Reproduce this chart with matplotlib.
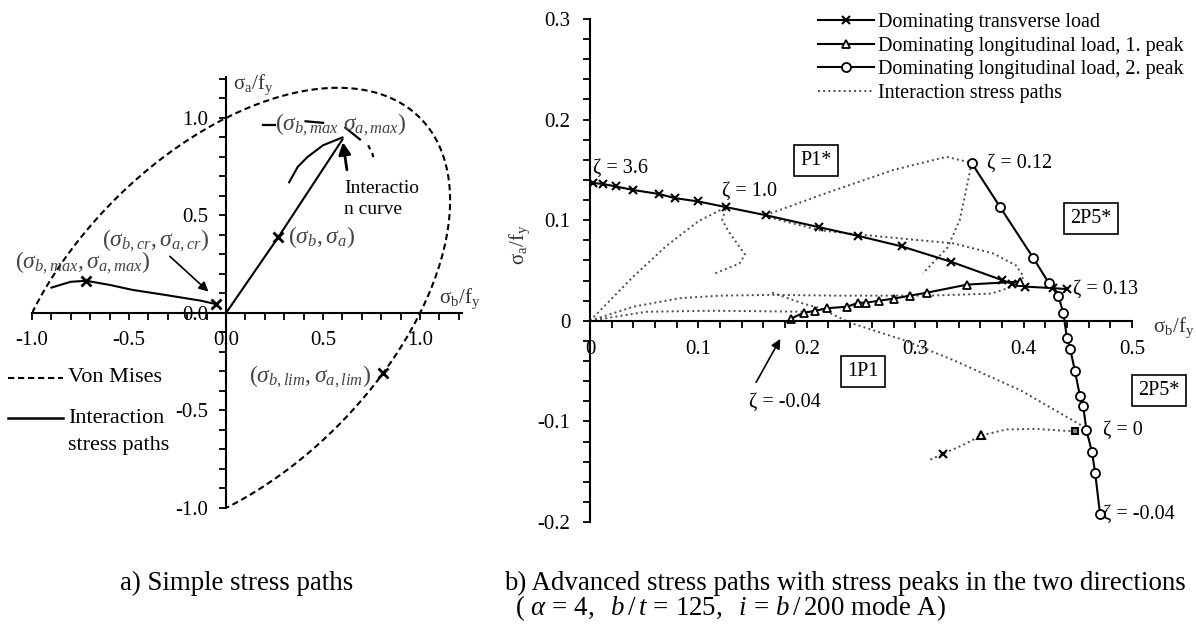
import numpy as np
import matplotlib
matplotlib.use('Agg')
import matplotlib.pyplot as plt
from matplotlib.lines import Line2D

plt.rcParams['font.family'] = ['Liberation Serif', 'DejaVu Serif']
plt.rcParams['mathtext.fontset'] = 'custom'
plt.rcParams['mathtext.rm'] = 'Liberation Serif'
plt.rcParams['mathtext.it'] = 'Liberation Serif:italic'
plt.rcParams['mathtext.bf'] = 'Liberation Serif:bold'

# ---- a) simple stress paths ----
# von Mises: sb^2 - sb*sa + sa^2 = 1, arc from (-1,0) over the top to (0,-1)
vm_t_start = 120.0
vm_t_end = -120.0
vm_lim_pt = (0.81, -0.31)

neg_path_b = [-0.90, -0.80, -0.72, -0.60, -0.48, -0.31, -0.13, -0.05]
neg_path_a = [0.13, 0.16, 0.165, 0.144, 0.118, 0.092, 0.063, 0.045]
neg_marks = [2, 7]

lin_path_b = [0.0, 0.27, 0.60]
lin_path_a = [0.0, 0.39, 0.89]

icurve_b = [0.325, 0.37, 0.42, 0.50, 0.60]
icurve_a = [0.67, 0.75, 0.80, 0.86, 0.90]
# bits of the interaction curve showing through the label
icap_segs = [([0.19, 0.25], [0.964, 0.964]),
             ([0.41, 0.50], [0.983, 0.975]),
             ([0.615, 0.69], [0.95, 0.89]),
             ([0.735, 0.74], [0.855, 0.845]),
             ([0.755, 0.757], [0.815, 0.805])]

# ---- b) advanced stress paths ----
trans_b = [0.003, 0.012, 0.024, 0.040, 0.064, 0.078, 0.100, 0.1255, 0.162, 0.2115,
           0.247, 0.2875, 0.333, 0.380, 0.389, 0.401, 0.427, 0.440]
trans_a = [0.137, 0.136, 0.1335, 0.130, 0.126, 0.122, 0.1186, 0.113, 0.105, 0.093,
           0.0845, 0.074, 0.0587, 0.0405, 0.037, 0.034, 0.0325, 0.0315]

long1_b = [0.185, 0.197, 0.208, 0.219, 0.237, 0.2475, 0.2546, 0.267, 0.280, 0.295,
           0.311, 0.348, 0.397]
long1_a = [0.002, 0.008, 0.010, 0.0125, 0.014, 0.018, 0.018, 0.020, 0.022, 0.025,
           0.028, 0.036, 0.039]

long2_b = [0.352, 0.378, 0.409, 0.423, 0.432, 0.4366, 0.440, 0.443, 0.4474, 0.452,
           0.455, 0.458, 0.463, 0.466, 0.4705]
long2_a = [0.157, 0.1136, 0.0623, 0.038, 0.025, 0.008, -0.017, -0.028, -0.050, -0.075,
           -0.085, -0.109, -0.130, -0.151, -0.192]

# dotted interaction stress paths
ip1_b = [0.0, 0.020, 0.040, 0.070, 0.100, 0.1255, 0.122, 0.129, 0.143, 0.138, 0.115]
ip1_a = [0.0, 0.022, 0.044, 0.074, 0.099, 0.113, 0.100, 0.087, 0.066, 0.057, 0.047]
ip2_b = [0.162, 0.218, 0.280, 0.329, 0.352, 0.347, 0.341, 0.330, 0.307]
ip2_a = [0.105, 0.127, 0.150, 0.163, 0.157, 0.130, 0.100, 0.073, 0.047]
ip3_b = [0.165, 0.190, 0.212, 0.246, 0.295, 0.335, 0.372, 0.393, 0.400, 0.397]
ip3_a = [0.103, 0.096, 0.090, 0.086, 0.081, 0.077, 0.067, 0.055, 0.044, 0.039]
ip4_b = [0.0, 0.040, 0.083, 0.120, 0.169, 0.230, 0.311, 0.370, 0.390]
ip4_a = [0.0, 0.014, 0.0225, 0.025, 0.0258, 0.025, 0.025, 0.027, 0.034]
ip5_b = [0.0, 0.052, 0.114, 0.160, 0.197]
ip5_a = [0.0, 0.009, 0.010, 0.0095, 0.009]
ip6_b = [0.168, 0.197, 0.212, 0.240, 0.289, 0.335, 0.397, 0.455]
ip6_a = [0.028, 0.017, 0.0126, -0.002, -0.019, -0.039, -0.069, -0.105]
ip7_b = [0.314, 0.326, 0.345, 0.361, 0.384, 0.412, 0.447]
ip7_a = [-0.138, -0.132, -0.123, -0.114, -0.108, -0.1075, -0.110]

boxes = [(0.2085, 0.159, 'P1*'), (0.462, 0.102, '2P5*'),
         (0.252, -0.0507, '1P1'), (0.525, -0.0696, '2P5*')]
zeta_labels = [(0.003, 0.152, '\u03b6 = 3.6'), (0.122, 0.129, '\u03b6 = 1.0'),
               (0.366, 0.157, '\u03b6 = 0.12'), (0.4456, 0.031, '\u03b6 = 0.13'),
               (0.473, -0.109, '\u03b6 = 0'), (0.473, -0.192, '\u03b6 = -0.04')]

legend_labels = ['Dominating transverse load', 'Dominating longitudinal load, 1. peak',
                 'Dominating longitudinal load, 2. peak', 'Interaction stress paths']


def style_axes(ax, fs, pad):
    for s in ['top', 'right']:
        ax.spines[s].set_visible(False)
    ax.spines['left'].set_position(('data', 0))
    ax.spines['bottom'].set_position(('data', 0))
    ax.spines['left'].set_linewidth(1.5)
    ax.spines['bottom'].set_linewidth(1.5)
    ax.tick_params(which='both', direction='out', length=5, width=1.3, labelsize=fs, pad=pad)
    ax.patch.set_alpha(0)


def plot_left(ax):
    t = np.radians(np.linspace(vm_t_start, vm_t_end, 300))
    u = np.sqrt(2) * np.cos(t)
    v = np.sqrt(2.0 / 3.0) * np.sin(t)
    sb = (u - v) / np.sqrt(2)
    sa = (u + v) / np.sqrt(2)
    ax.plot(sb, sa, color='black', lw=1.5, dashes=(3, 1.8))
    ax.plot(*vm_lim_pt, marker='x', color='black', ms=7, mew=2)

    ax.plot(neg_path_b, neg_path_a, color='black', lw=1.5)
    ax.plot([neg_path_b[i] for i in neg_marks], [neg_path_a[i] for i in neg_marks],
            'x', color='black', ms=7, mew=2)
    ax.plot(lin_path_b, lin_path_a, color='black', lw=1.5)
    ax.plot(lin_path_b[1], lin_path_a[1], 'x', color='black', ms=7, mew=2)
    ax.plot(icurve_b, icurve_a, color='black', lw=1.5)

    lab = 17
    ax.text(0.25, 0.965, r'$(\sigma_{b,max}\ \sigma_{a,max})$', fontsize=lab, va='center',
            color='#444444')
    for sb_, sa_ in icap_segs:
        ax.plot(sb_, sa_, color='black', lw=1.6)
    ax.annotate('', xy=(0.60, 0.89), xytext=(0.625, 0.72),
                arrowprops=dict(arrowstyle='-|>', color='black', lw=2, mutation_scale=18))
    ax.text(0.61, 0.68, 'Interactio\nn curve', fontsize=14, va='top', ha='left',
            linespacing=1.25)

    ax.text(-1.09, 0.255, r'$(\sigma_{b,max},\sigma_{a,max})$', fontsize=lab, va='center',
            color='#444444')
    ax.text(-0.64, 0.37, r'$(\sigma_{b,cr},\sigma_{a,cr})$', fontsize=lab, va='center',
            color='#444444')
    ax.annotate('', xy=(-0.08, 0.10), xytext=(-0.30, 0.30),
                arrowprops=dict(arrowstyle='-|>', color='black', lw=1.2, mutation_scale=14))
    ax.text(0.32, 0.39, r'$(\sigma_b,\sigma_a)$', fontsize=lab, va='center', color='#444444')
    ax.text(0.75, -0.33, r'$(\sigma_{b,lim},\sigma_{a,lim})$', fontsize=lab, va='center',
            ha='right', color='#444444')

    ax.text(0.035, 1.17, r'$\mathrm{σ_a/f_y}$', fontsize=15, va='center', color='#333333')
    ax.text(1.10, 0.075, r'$\mathrm{σ_b/f_y}$', fontsize=15, va='center', color='#333333')

    # legend drawn by hand
    ax.plot([-1.124, -0.84], [-0.333, -0.333], color='black', lw=1.5, dashes=(3, 1.8),
            clip_on=False)
    ax.text(-0.814, -0.333, 'Von Mises', fontsize=16, va='center')
    ax.plot([-1.124, -0.84], [-0.54, -0.54], color='black', lw=1.8, clip_on=False)
    ax.text(-0.814, -0.54, 'Interaction', fontsize=16, va='center')
    ax.text(-0.814, -0.68, 'stress paths', fontsize=16, va='center')

    ax.set_xlim(-1.0, 1.216)
    ax.set_ylim(-1.0, 1.21)
    style_axes(ax, 15, 8)
    ax.set_xticks([-1.0, -0.5, 0.0, 0.5, 1.0])
    ax.set_xticklabels(['-1.0', '-0.5', '0.0', '0.5', '1.0'])
    ax.set_yticks([-1.0, -0.5, 0.0, 0.5, 1.0])
    ax.set_yticklabels(['-1.0', '-0.5', '0.0', '0.5', '1.0'])
    ax.set_xticks(np.arange(-1.0, 1.21, 0.1), minor=True)
    ax.set_yticks(np.arange(-1.0, 1.21, 0.1), minor=True)


def plot_right(ax):
    dot = dict(color='#4a4a4a', lw=1.4, ls=':')
    for pb, pa in [(ip1_b, ip1_a), (ip2_b, ip2_a), (ip3_b, ip3_a), (ip4_b, ip4_a),
                   (ip5_b, ip5_a), (ip6_b, ip6_a), (ip7_b, ip7_a)]:
        ax.plot(pb, pa, **dot)
    ax.plot(ip7_b[1], ip7_a[1], 'x', color='black', ms=6, mew=1.5)
    ax.plot(ip7_b[3], ip7_a[3], '^', color='black', mfc='white', ms=6, mew=1.5)
    ax.plot(ip7_b[-1], ip7_a[-1], 's', color='black', mfc='#888888', ms=5, mew=1.5)

    ax.plot(trans_b, trans_a, color='black', lw=1.5, marker='x', ms=6, mew=1.5)
    ax.plot(long1_b, long1_a, color='black', lw=1.5, marker='^', mfc='white', ms=6, mew=1.3)
    ax.plot(long2_b, long2_a, color='black', lw=1.5, marker='o', mfc='white', ms=6.5, mew=1.3)

    for x, y, s in boxes:
        ax.text(x, y, s, fontsize=14.5, ha='center', va='center', clip_on=False,
                bbox=dict(boxstyle='square,pad=0.3', fc='white', ec='black', lw=1.2))
    for x, y, s in zeta_labels:
        ax.text(x, y, s, fontsize=14.5, ha='left', va='center', clip_on=False)
    ax.text(0.180, -0.0815, '\u03b6 = -0.04', fontsize=14.5, ha='center', va='center')
    ax.annotate('', xy=(0.1768, -0.0156), xytext=(0.152, -0.0636),
                arrowprops=dict(arrowstyle='-|>', color='black', lw=1.2, mutation_scale=14))

    ax.text(0.519, -0.007, r'$\mathrm{σ_b/f_y}$', fontsize=15, va='center', color='#333333',
            clip_on=False)
    ax.text(-0.0646, 0.0755, r'$\mathrm{σ_a/f_y}$', fontsize=15, va='center', ha='center',
            rotation=90, color='#333333', clip_on=False)

    ax.set_xlim(0, 0.5)
    ax.set_ylim(-0.2, 0.3)
    style_axes(ax, 15, 9)
    ax.set_xticks([0, 0.1, 0.2, 0.3, 0.4, 0.5])
    ax.set_xticklabels(['0', '0.1', '0.2', '0.3', '0.4', '0.5'])
    ax.set_yticks([-0.2, -0.1, 0, 0.1, 0.2, 0.3])
    ax.set_yticklabels(['-0.2', '-0.1', '0', '0.1', '0.2', '0.3'])
    ax.set_xticks(np.arange(0, 0.501, 0.02), minor=True)
    ax.set_yticks(np.arange(-0.2, 0.301, 0.02), minor=True)

    handles = [Line2D([], [], color='black', lw=1.5, marker='x', ms=6, mew=1.5),
               Line2D([], [], color='black', lw=1.5, marker='^', mfc='white', ms=6, mew=1.3),
               Line2D([], [], color='black', lw=1.5, marker='o', mfc='white', ms=6.5, mew=1.3),
               Line2D([], [], color='#4a4a4a', lw=1.4, ls=':')]
    fig = ax.figure
    fig.legend(handles, legend_labels, loc='upper left', bbox_to_anchor=(818 / 1196, 1 - 13 / 628),
               bbox_transform=fig.transFigure, frameon=False, fontsize=14.5, borderpad=0,
               borderaxespad=0, handlelength=2.8, handletextpad=0.2, labelspacing=0.22,
               numpoints=1)


if __name__ == '__main__':
    fig = plt.figure(figsize=(11.96, 6.28), dpi=100)
    axL = fig.add_axes([32 / 1196, 1 - 508 / 628, 430 / 1196, 431 / 628])
    axR = fig.add_axes([590 / 1196, 1 - 522 / 628, 542 / 1196, 503 / 628])
    plot_left(axL)
    plot_right(axR)

    fig.text(120 / 1196, 1 - 583 / 628, 'a) Simple stress paths', fontsize=19.35, va='center')
    fig.text(504 / 1196, 1 - 583 / 628,
             'b) Advanced stress paths with stress peaks in the two directions',
             fontsize=19.35, va='center')
    fig.text(515 / 1196, 1 - 608 / 628,
             r'$(\ \alpha\,=\,4,\ \ b\,/\,t\,=\,125,\ \ i\,=\,b\,/\,200$ mode A)',
             fontsize=19.35, va='center')
    fig.savefig('out.png', dpi=100)
